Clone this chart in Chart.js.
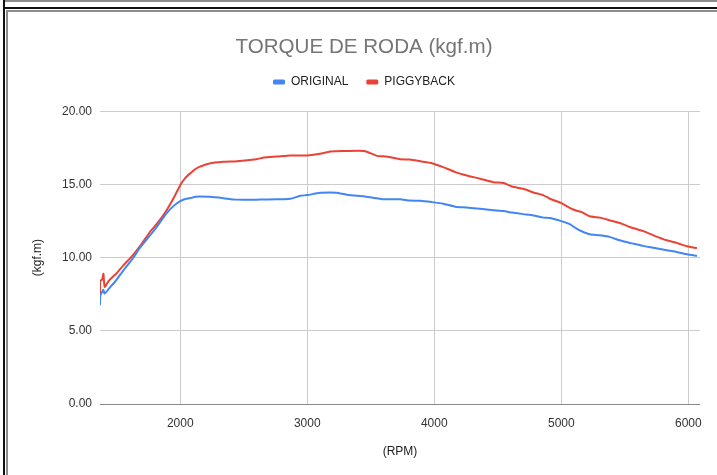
<!DOCTYPE html>
<html>
<head>
<meta charset="utf-8">
<script src="https://cdn.jsdelivr.net/npm/chart.js@4/dist/chart.umd.min.js"></script>
<style>
  html, body { margin: 0; padding: 0; background: #fff; }
  #wrap { position: relative; width: 717px; height: 475px; overflow: hidden; }
  canvas { position: absolute; left: 0; top: 0; }
  .ln { position: absolute; pointer-events: none; }
</style>
</head>
<body>
<div id="wrap">
  <canvas id="c" width="717" height="475"></canvas>
  <div class="ln" style="left:4px;top:0px;width:713px;height:2px;background:#8c8c8c;"></div>
  <div class="ln" style="left:3px;top:7px;width:714px;height:2px;background:#111;"></div>
  <div class="ln" style="left:6px;top:10px;width:711px;height:2px;background:#8c8c8c;"></div>
  <div class="ln" style="left:3px;top:0px;width:2px;height:475px;background:#111;"></div>
  <div class="ln" style="left:6px;top:10px;width:2px;height:465px;background:#8c8c8c;"></div>
</div>
<script>
const chartTitle = "TORQUE DE RODA (kgf.m)";
const seriesNames = ["ORIGINAL", "PIGGYBACK"];
const xTitle = "(RPM)";
const yTitle = "(kgf.m)";
const xTickValues = [2000, 3000, 4000, 5000, 6000];
const yTickValues = [0, 5, 10, 15, 20];

const rpm = [1368, 1370, 1385, 1395, 1405, 1440, 1495, 1550, 1625, 1685, 1770, 1815, 1890, 1950,
  2000, 2040, 2085, 2120, 2150, 2230, 2340, 2445, 2600, 2660, 2760, 2865, 2945, 3000, 3100, 3180, 3230, 3310,
  3390, 3455, 3550, 3600, 3655, 3730, 3810, 3890, 3980, 4070, 4165, 4255, 4360, 4465, 4545, 4610,
  4700, 4780, 4860, 4910, 5000, 5070, 5120, 5160, 5225, 5305, 5385, 5460, 5540, 5570, 5645, 5725,
  5830, 5910, 5990, 6068];

const original = [6.75, 7.4, 7.65, 7.8, 7.55, 7.9, 8.45, 9.1, 9.93, 10.7, 11.6, 12.1, 13.0, 13.55,
  13.86, 14.0, 14.08, 14.15, 14.18, 14.15, 14.06, 13.96, 13.96, 13.97, 13.98, 14.02, 14.22, 14.27, 14.43, 14.45, 14.43, 14.3,
  14.22, 14.18, 14.05, 13.99, 13.99, 13.98, 13.9, 13.88, 13.79, 13.68, 13.48, 13.42, 13.33, 13.24, 13.18, 13.08,
  12.97, 12.88, 12.73, 12.70, 12.49, 12.27, 11.98, 11.8, 11.59, 11.52, 11.40, 11.18, 11.0, 10.95, 10.8, 10.68,
  10.50, 10.38, 10.23, 10.11];

const piggyback = [7.4, 8.4, 8.5, 8.9, 8.0, 8.45, 8.9, 9.45, 10.15, 10.8, 11.85, 12.3, 13.2, 14.1,
  14.95, 15.45, 15.8, 16.05, 16.2, 16.43, 16.54, 16.58, 16.72, 16.84, 16.9, 16.97, 16.97, 16.97, 17.09, 17.25, 17.27, 17.28,
  17.29, 17.27, 16.95, 16.92, 16.86, 16.72, 16.70, 16.58, 16.45, 16.18, 15.84, 15.61, 15.39, 15.15, 15.09, 14.86,
  14.70, 14.45, 14.25, 14.02, 13.72, 13.38, 13.2, 13.11, 12.82, 12.73, 12.54, 12.36, 12.09, 12.0, 11.81, 11.52,
  11.18, 11.00, 10.77, 10.65];

Chart.defaults.font.family = "'Liberation Sans', Arial, sans-serif";

const legendExtra = {
  id: 'legendExtra',
  beforeLayout(chart) {
    const lg = chart.legend;
    if (lg && !lg._patched) {
      const f = lg.fit;
      lg.fit = function () { f.call(this); this.height += 13.2; };
      lg._patched = true;
    }
  }
};

new Chart(document.getElementById('c'), {
  type: 'line',
  data: {
    datasets: [
      { label: seriesNames[0], data: rpm.map((x, i) => ({ x, y: original[i] })),
        borderColor: '#4285F4', backgroundColor: '#4285F4' },
      { label: seriesNames[1], data: rpm.map((x, i) => ({ x, y: piggyback[i] })),
        borderColor: '#EA4335', backgroundColor: '#EA4335' }
    ]
  },
  options: {
    responsive: false,
    animation: false,
    devicePixelRatio: 1,
    elements: {
      line: { borderWidth: 2, tension: 0.2, fill: false, borderJoinStyle: 'round' },
      point: { radius: 0, hoverRadius: 0 }
    },
    layout: { padding: { left: 28, right: 17, top: 0, bottom: 0 } },
    plugins: {
      tooltip: { enabled: false },
      title: {
        display: true, text: chartTitle, color: '#757575',
        font: { size: 20.6, weight: 'normal', lineHeight: 1 },
        padding: { top: 37.4, bottom: 0 }
      },
      legend: {
        display: true,
        labels: {
          color: '#222', font: { size: 12 }, boxWidth: 12, boxHeight: 5, padding: 18,
          useBorderRadius: true, borderRadius: 1.5,
          generateLabels(chart) {
            const items = Chart.defaults.plugins.legend.labels.generateLabels(chart);
            items.forEach(it => { it.lineWidth = 0; it.fillStyle = it.strokeStyle; });
            return items;
          }
        }
      }
    },
    scales: {
      x: {
        type: 'linear', min: 1368, max: 6092,
        afterBuildTicks(scale) { scale.ticks = xTickValues.map(v => ({ value: v })); },
        afterFit(scale) { scale.height = 71; },
        ticks: { color: '#333', font: { size: 12 }, padding: 12, callback: v => String(v), maxRotation: 0 },
        grid: { color: '#cccccc', drawTicks: false },
        border: { display: false },
        title: { display: true, text: xTitle, color: '#222', font: { size: 12 }, padding: { top: 0, bottom: 16 } }
      },
      y: {
        min: 0, max: 20,
        afterBuildTicks(scale) { scale.ticks = yTickValues.map(v => ({ value: v })); },
        afterFit(scale) { scale.width = 72; },
        ticks: { color: '#333', font: { size: 12 }, padding: 8, callback: v => Number(v).toFixed(2) },
        grid: { color: ctx => (ctx.tick && ctx.tick.value === 0) ? '#888888' : '#cccccc', drawTicks: false },
        border: { display: false },
        title: { display: true, text: yTitle, color: '#222', font: { size: 12 }, padding: { top: 2, bottom: 0 } }
      }
    }
  },
  plugins: [legendExtra]
});
</script>
</body>
</html>
